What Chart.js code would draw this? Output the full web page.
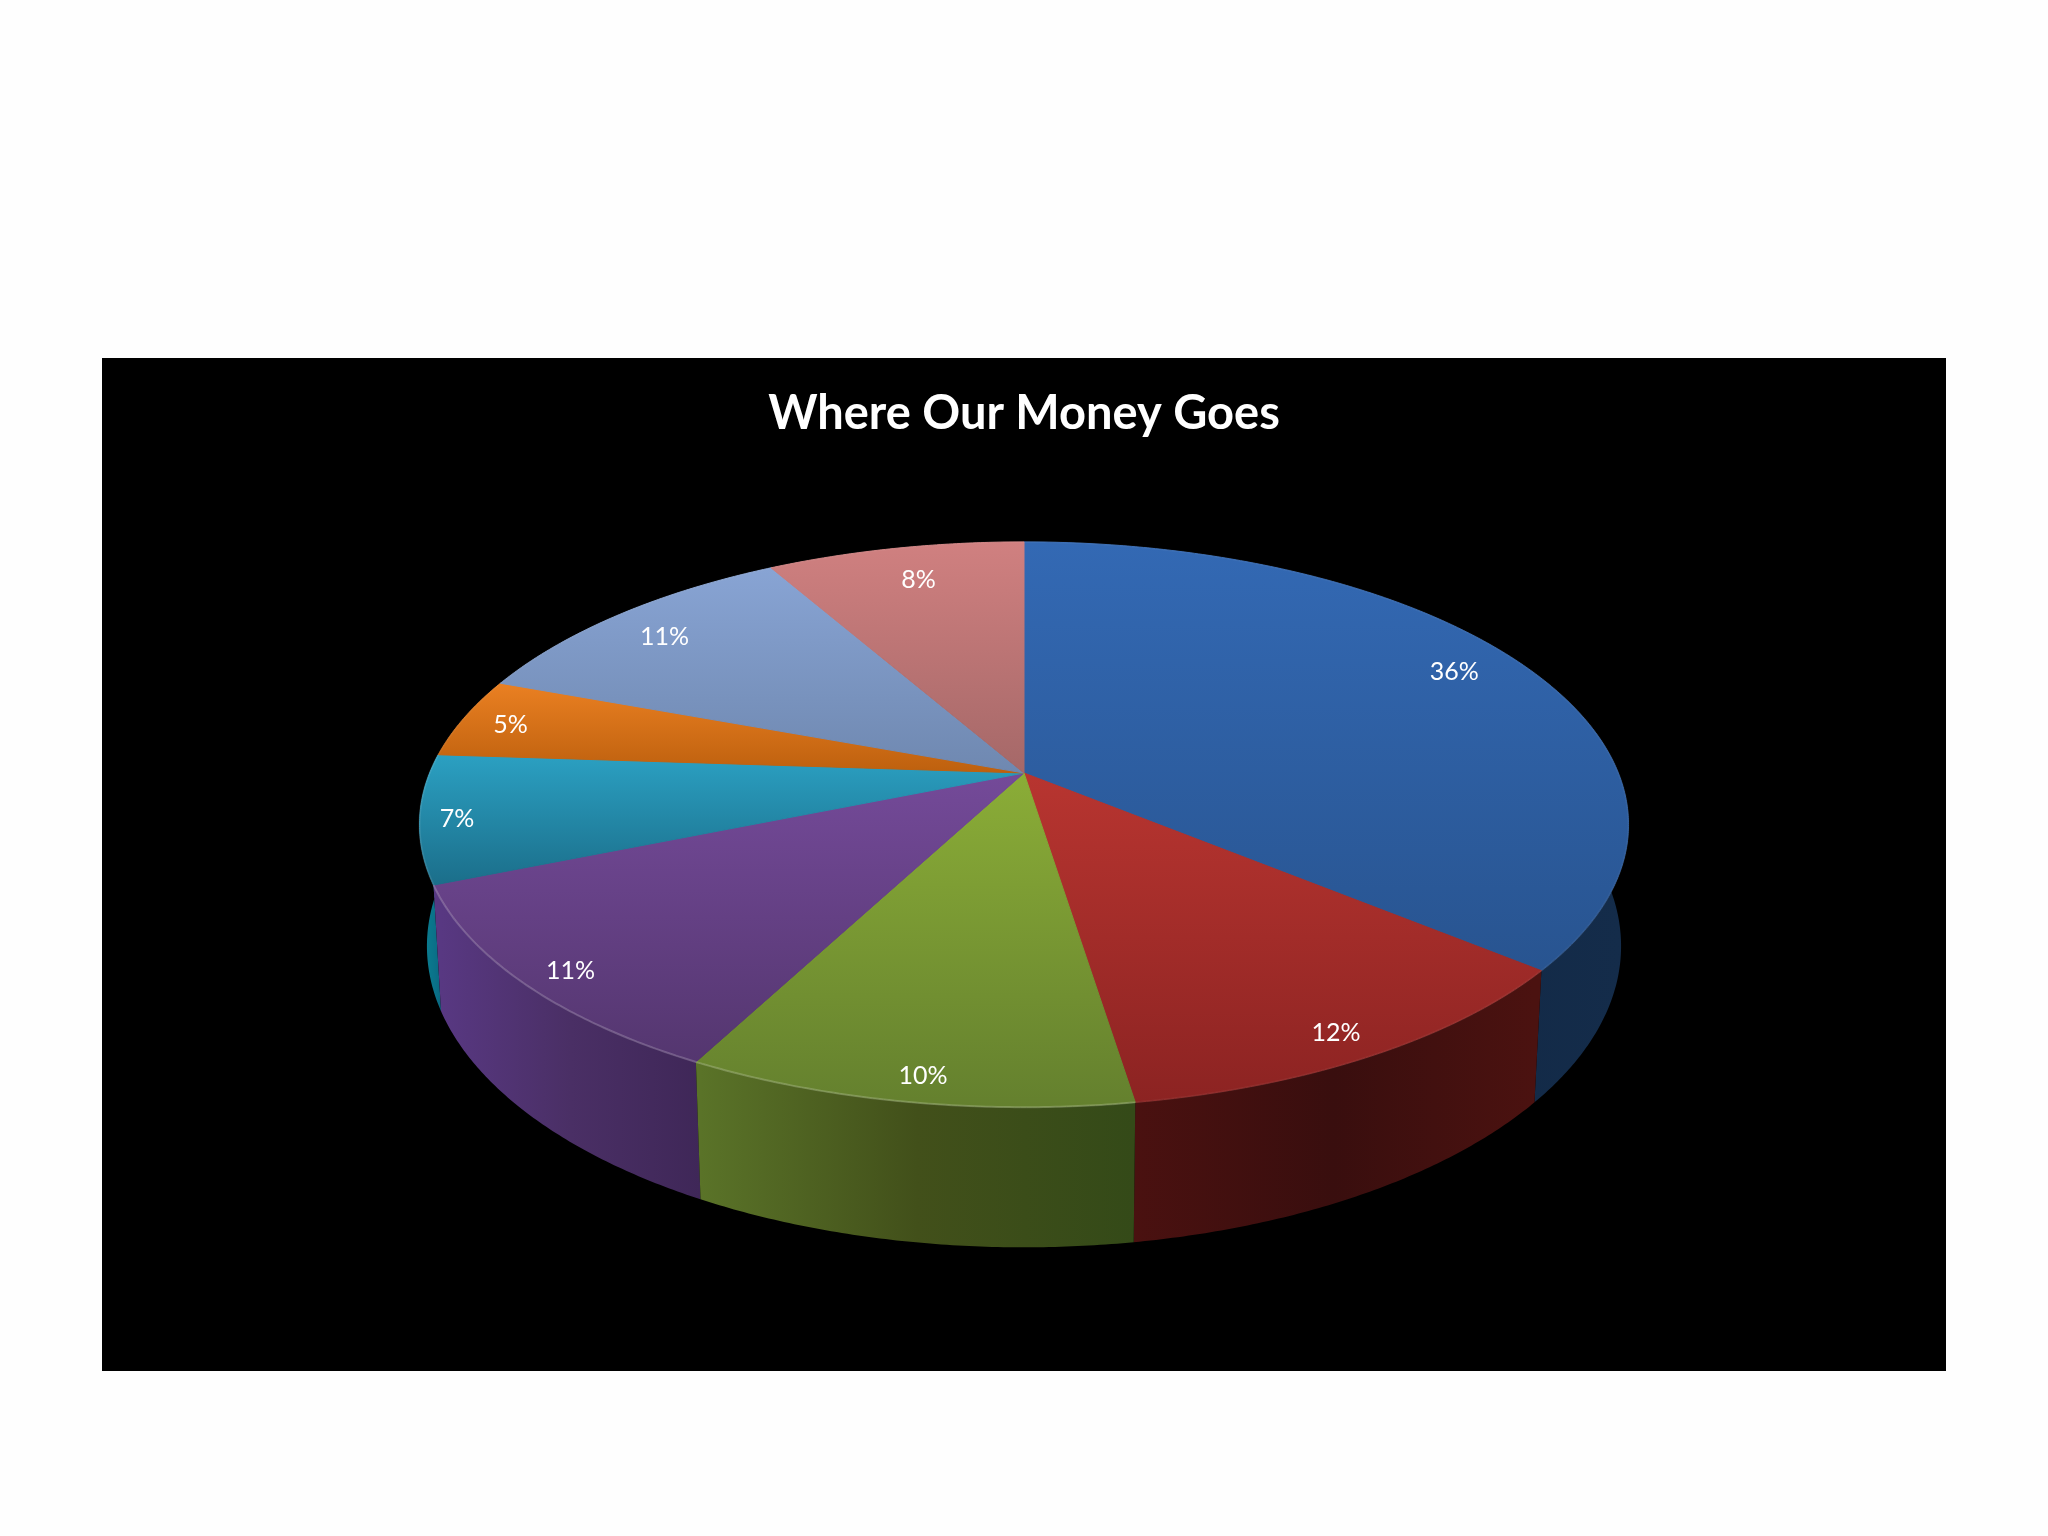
<!DOCTYPE html>
<html>
<head>
<meta charset="utf-8">
<script src="https://cdn.jsdelivr.net/npm/chart.js@4"></script>
<style>
html,body{margin:0;padding:0;background:#fefefe;}
#wrap{position:absolute;left:102px;top:358px;width:1844px;height:1013px;background:#000;}
canvas{display:block;}
</style>
</head>
<body>
<div id="wrap"><canvas id="c" width="1844" height="1013"></canvas></div>
<script>
// Data
const categories = ['Slice 1','Slice 2','Slice 3','Slice 4','Slice 5','Slice 6','Slice 7','Slice 8'];
const shares = [36, 11.5, 10.1, 11.1, 7.3, 4.6, 11.1, 8.2];
const titleText = 'Where Our Money Goes';

// Styles
const topLight = ['#3369b4','#b83530','#8bad37','#744a99','#2ba0c2','#ea8022','#88a4d4','#d08080'];
const topDark  = ['#285490','#8c2322','#64802e','#54366f','#1b6e8a','#bd600e','#6f88b0','#a56868'];
const sideLeft = ['#102645','#4a1110','#5a7328','#583882','#0a7a8e','#a05a10','#5a7090','#805050'];
const sideMid  = ['#112744','#390e0e','#42501a','#4a2f65','#0a7088','#904f10','#506480','#704646'];
const sideRight= ['#142c4a','#4b1210','#344a18','#3f2758','#0a6078','#804510','#485a70','#603c3c'];
const rimAlpha = [0.05,0.05,0.2,0.2,0.1,0.05,0.05,0.05];
// Label placement along each slice
const labelFraction = [0.88,0.92,0.925,0.925,0.94,0.915,0.87,0.85];
const labelTurn = [-0.047,0.007,-0.01,-0.0125,0,0,-0.008,0.015];
const labelDrop = 3;

// View of the tilted disc, relative to the chart's own radius
const VIEW = {sx:1.888, sy:0.868, depth:0.382, tilt:-0.1824, depthTilt:0.012};

function project(el, angle, z, f){
  const r = f === undefined ? 1 : f;
  const u = r*Math.cos(angle), v = r*Math.sin(angle);
  const d = 1 + VIEW.tilt*v + VIEW.depthTilt*z;
  return {
    x: el.x + el.outerRadius*VIEW.sx*u/d,
    y: el.y + el.outerRadius*(VIEW.sy*v + VIEW.depth*z)/d
  };
}
function arcPoints(el, z){
  const pts = [], n = Math.max(8, Math.ceil((el.endAngle-el.startAngle)/0.008));
  for(let i=0;i<=n;i++){
    pts.push(project(el, el.startAngle+(el.endAngle-el.startAngle)*i/n, z));
  }
  return pts;
}

const disc3d = {
  id:'disc3d',
  beforeDatasetDraw(chart, args){
    const ctx = chart.ctx, arcs = args.meta.data;
    const order = arcs.map((e,i)=>i).sort((a,b)=>
      Math.sin((arcs[a].startAngle+arcs[a].endAngle)/2)-Math.sin((arcs[b].startAngle+arcs[b].endAngle)/2));
    ctx.save();
    // outer wall
    order.forEach(i=>{
      const el = arcs[i], t = arcPoints(el,0), b = arcPoints(el,1);
      const xs = b.map(p=>p.x), minX = Math.min(...xs), maxX = Math.max(...xs);
      const g = ctx.createLinearGradient(minX,0,maxX,0);
      g.addColorStop(0,sideLeft[i]);
      g.addColorStop(0.5,sideMid[i]);
      g.addColorStop(1,sideRight[i]);
      ctx.beginPath();
      t.forEach((p,k)=>k?ctx.lineTo(p.x,p.y):ctx.moveTo(p.x,p.y));
      b.reverse().forEach(p=>ctx.lineTo(p.x,p.y));
      ctx.closePath();
      ctx.fillStyle = g; ctx.fill();
    });
    // top face
    arcs.forEach((el,i)=>{
      const t = arcPoints(el,0);
      const ys = t.map(p=>p.y).concat([el.y]);
      const g = ctx.createLinearGradient(0,Math.min(...ys),0,Math.max(...ys));
      g.addColorStop(0,topLight[i]); g.addColorStop(1,topDark[i]);
      ctx.beginPath();
      ctx.moveTo(el.x,el.y);
      t.forEach(p=>ctx.lineTo(p.x,p.y));
      ctx.closePath();
      ctx.fillStyle = g; ctx.fill();
      ctx.strokeStyle = g; ctx.lineWidth = 1; ctx.stroke();
    });
    // rim highlight
    arcs.forEach((el,i)=>{
      const t = arcPoints(el,0);
      ctx.beginPath();
      t.forEach((p,k)=>k?ctx.lineTo(p.x,p.y):ctx.moveTo(p.x,p.y));
      ctx.strokeStyle = 'rgba(255,255,255,'+rimAlpha[i]+')';
      ctx.lineWidth = 2; ctx.stroke();
    });
    // labels
    ctx.fillStyle = '#fff';
    ctx.font = '25px Lato';
    ctx.textAlign = 'center'; ctx.textBaseline = 'middle';
    arcs.forEach((el,i)=>{
      const p = project(el,(el.startAngle+el.endAngle)/2+labelTurn[i],0,labelFraction[i]);
      ctx.fillText(Math.round(shares[i])+'%',p.x,p.y+labelDrop);
    });
    ctx.restore();
    return false;
  }
};

new Chart(document.getElementById('c'),{
  type:'pie',
  data:{labels:categories,datasets:[{data:shares,backgroundColor:topLight,borderWidth:0}]},
  plugins:[disc3d],
  options:{
    responsive:false,animation:false,devicePixelRatio:1,
    layout:{padding:{bottom:283.2}},
    plugins:{
      legend:{display:false},tooltip:{enabled:false},
      title:{display:true,text:titleText,color:'#fff',
        font:{family:'Lato',size:47,weight:'bold',lineHeight:1.2},
        padding:{top:28,bottom:15.8}}
    }
  }
});
</script>
</body>
</html>
